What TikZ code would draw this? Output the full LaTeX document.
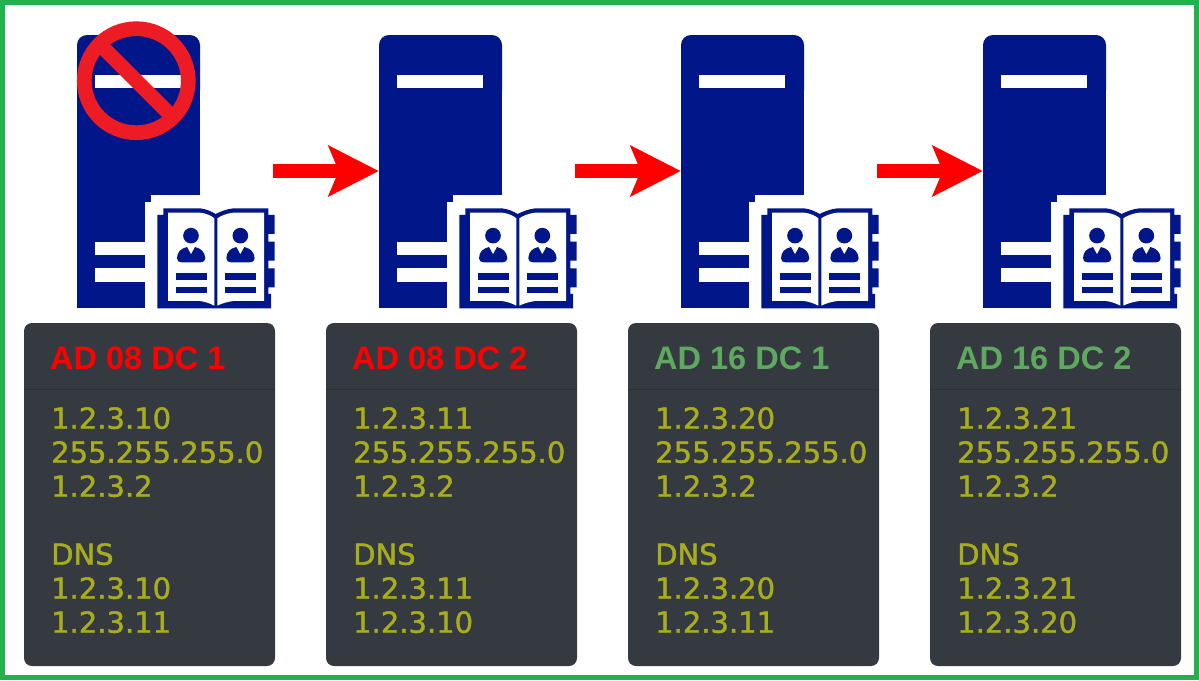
\documentclass[tikz,border=0pt]{standalone}
\usepackage{fontspec}
\setmainfont{Liberation Sans}
\newfontfamily\bodyf[FakeBold=1.4]{DejaVu Sans}
\usetikzlibrary{arrows.meta}
\definecolor{navy}{HTML}{001689}
\definecolor{panelc}{HTML}{343A40}
\definecolor{rulec}{HTML}{2C3136}
\definecolor{framec}{HTML}{22B14C}
\definecolor{bodyc}{HTML}{A8AD1E}
\definecolor{goodc}{HTML}{5FA860}
\definecolor{stopc}{HTML}{ED1C24}
\tikzset{
  panelbox/.style={fill=panelc,rounded corners=8pt,minimum width=251pt,minimum height=343pt,inner sep=0pt},
  paneltitle/.style={anchor=base west,inner sep=0pt,font=\fontsize{32.5}{34}\bfseries\selectfont},
  panelbody/.style={anchor=north west,inner sep=0pt,align=left,text=bodyc,font=\fontsize{29}{34}\bodyf\selectfont},
  srvbox/.style={minimum width=123pt,minimum height=273pt,inner sep=0pt},
  flow/.style={red,line width=14pt,-{Stealth[length=50pt,width=50pt,inset=10pt]}},
}
\newcommand{\personfig}[1]{%
  \begin{scope}[xshift=#1*0.33333pt]
    \fill[navy] (393,677) circle (23.5);
    \fill[navy] (351,745) .. controls (352,725) and (362,716) .. (381,711) -- (393,733) -- (405,711)
      .. controls (424,716) and (434,725) .. (436,745) .. controls (436,753) and (430,757) .. (422,757)
      -- (365,757) .. controls (357,757) and (351,753) .. (351,745) -- cycle;
    \fill[navy] (347,790) rectangle (440,810);
    \fill[navy] (347,830) rectangle (440,850);
  \end{scope}}
\newcommand{\serverfig}[1]{%
  \begin{scope}[xshift=#1pt]
    \fill[navy] (77,60) rectangle (200,308);
    \fill[navy,rounded corners=10pt] (77,100) -- (77,35) -- (200,35) -- (200,100) -- cycle;
    \fill[white] (95,75) rectangle (181,88);
    \fill[white] (145,310) -- (145,202) -- (151,202) -- (151,195) -- (201,195) -- (201,310) -- cycle;
    \fill[white] (95,242) rectangle (146,255);
    \fill[white] (95,268) rectangle (146,281.5);
    \begin{scope}[shift={(60pt,-10pt)},x=0.33333pt,y=-0.33333pt]
      \fill[navy] (292,895) -- (292,615) -- (310,615) -- (310,595) -- (420,595)
        .. controls (440,597) and (455,605) .. (467,612) .. controls (480,605) and (500,597) .. (520,595)
        -- (625,595) -- (625,615) -- (644,615) -- (644,672) -- (625,672) -- (625,695) -- (644,695)
        -- (644,752) -- (625,752) -- (625,775) -- (644,775) -- (644,832) -- (625,832) -- (625,852)
        -- (633,852) -- (633,895) -- cycle;
      \fill[white] (324,608) -- (420,608) .. controls (440,610) and (455,618) .. (463,625)
        -- (463,887) .. controls (450,880) and (435,875) .. (420,873) -- (324,873) -- cycle;
      \fill[white] (472,625) .. controls (482,618) and (500,610) .. (520,608) -- (612,608)
        -- (612,873) -- (520,873) .. controls (505,875) and (485,880) .. (472,887) -- cycle;
      \personfig{0}
      \personfig{148}
    \end{scope}
  \end{scope}}
\newcommand{\panelfig}[5]{%
  % #1 name, #2 left x, #3 colour, #4 title, #5 body
  \node[panelbox] (#1) at (#2+125.5,494.5) {};
  \draw[rulec,line width=1pt] (#1.west |- 0,389) -- (#1.east |- 0,389);
  \node[paneltitle,text=#3] (#1t) at (#2+26,369) {#4};
  \node[panelbody] (#1b) at (#2+27,407) {#5};}
\begin{document}
\begin{tikzpicture}[x=1pt,y=-1pt]
\useasboundingbox (0,0) rectangle (1199,680);
\fill[white] (0,0) rectangle (1199,680);
\draw[framec,line width=5pt] (2.5,2.5) rectangle (1196.5,677.5);
\serverfig{0}\serverfig{302}\serverfig{604}\serverfig{906}
\node[srvbox] (srv1) at (138.5,171.5) {};
\node[srvbox] (srv2) at (440.5,171) {};
\node[srvbox] (srv3) at (742.5,171) {};
\node[srvbox] (srv4) at (1044.5,171) {};
% prohibition sign
\draw[stopc,line width=14.7pt] (136.3,80.7) circle (52);
\draw[stopc,line width=14.7pt] (136.3,80.7) ++(-36.8,-36.8) -- ++(73.6,73.6);
% arrows
\coordinate (a1) at (273,171);
\coordinate (a2) at (575,171);
\coordinate (a3) at (877,171);
\draw[flow] (a1) -- (srv2.west);
\draw[flow] (a2) -- (srv3.west);
\draw[flow] (a3) -- (srv4.west);
% panels
\panelfig{p1}{24}{red}{AD 08 DC 1}{1.2.3.10\\255.255.255.0\\1.2.3.2\\[34pt]DNS\\1.2.3.10\\1.2.3.11}
\panelfig{p2}{326}{red}{AD 08 DC 2}{1.2.3.11\\255.255.255.0\\1.2.3.2\\[34pt]DNS\\1.2.3.11\\1.2.3.10}
\panelfig{p3}{628}{goodc}{AD 16 DC 1}{1.2.3.20\\255.255.255.0\\1.2.3.2\\[34pt]DNS\\1.2.3.20\\1.2.3.11}
\panelfig{p4}{930}{goodc}{AD 16 DC 2}{1.2.3.21\\255.255.255.0\\1.2.3.2\\[34pt]DNS\\1.2.3.21\\1.2.3.20}
\end{tikzpicture}
\end{document}
